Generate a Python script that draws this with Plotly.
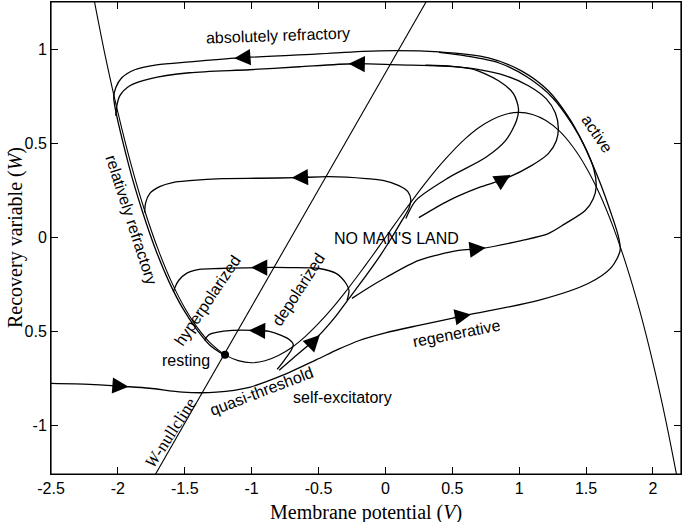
import plotly.graph_objects as go

# axis ticks
x_ticks = [-2.5, -2, -1.5, -1, -0.5, 0, 0.5, 1, 1.5, 2]
x_tick_text = ["-2.5", "-2", "-1.5", "-1", "-0.5", "0", "0.5", "1", "1.5", "2"]
y_ticks = [-1, -0.5, 0, 0.5, 1]
y_tick_text = ["-1", "0.5", "0", "0.5", "1"]

# V-nullcline (cubic)
vnull_v = [-2.2, -2.1, -2.0, -1.9, -1.8, -1.7, -1.6, -1.5, -1.4, -1.3, -1.2, -1.1, -1.0,
           -0.9, -0.8, -0.7, -0.6, -0.5, -0.4, -0.3, -0.2, -0.1, 0.0, 0.1, 0.2, 0.3, 0.4,
           0.5, 0.6, 0.7, 0.8, 0.9, 1.0, 1.1, 1.2, 1.3, 1.4, 1.5, 1.6, 1.7, 1.8, 1.9, 2.0,
           2.1, 2.2]
vnull_w = [1.349, 0.987, 0.667, 0.386, 0.144, -0.062, -0.235, -0.375, -0.485, -0.568,
           -0.624, -0.656, -0.667, -0.657, -0.629, -0.586, -0.528, -0.458, -0.379, -0.291,
           -0.197, -0.100, 0.0, 0.100, 0.197, 0.291, 0.379, 0.458, 0.528, 0.586, 0.629,
           0.657, 0.667, 0.656, 0.624, 0.568, 0.485, 0.375, 0.235, 0.062, -0.144, -0.386,
           -0.667, -0.987, -1.349]

# W-nullcline
wnull_v = [-1.76, 0.35]
wnull_w = [-1.3125, 1.3125]

# resting point
rest_v = [-1.199]
rest_w = [-0.624]

# trajectories
regen_v = [-2.50, -2.21, -1.963, -1.762, -1.516, -1.263, -1.017, -0.771, -0.518, -0.350,
           -0.200, 0.000, 0.250, 0.600, 1.144, 1.516, 1.688, 1.755, 1.740, 1.680, 1.613,
           1.546, 1.472, 1.367, 1.218, 1.017, 0.771, 0.399, -0.048, -0.496, -1.092, -1.464,
           -1.710, -1.874, -1.971, -2.016, -2.031, -1.919, -1.819, -1.719, -1.618, -1.517,
           -1.415, -1.310, -1.205]
regen_w = [-0.777, -0.782, -0.793, -0.803, -0.824, -0.824, -0.798, -0.735, -0.652, -0.595,
           -0.550, -0.508, -0.468, -0.415, -0.335, -0.245, -0.160, -0.069, 0.011, 0.144,
           0.277, 0.394, 0.511, 0.644, 0.782, 0.888, 0.957, 0.989, 0.995, 0.979, 0.957,
           0.936, 0.920, 0.894, 0.851, 0.798, 0.745, 0.386, 0.144, -0.062, -0.235, -0.375,
           -0.485, -0.575, -0.626]

mid_v = [-0.250, -0.123, 0.004, 0.250, 0.548, 0.712, 1.017, 1.218, 1.345, 1.494, 1.554,
         1.576, 1.560, 1.500, 1.400, 1.250, 1.060, 0.850, 0.600, 0.400]
mid_w = [-0.324, -0.266, -0.213, -0.122, -0.069, -0.059, -0.016, 0.021, 0.074, 0.144,
         0.207, 0.271, 0.360, 0.470, 0.600, 0.745, 0.855, 0.930, 0.968, 0.987]

upper_v = [0.250, 0.473, 0.697, 0.898, 1.092, 1.218, 1.278, 1.293, 1.270, 1.203, 1.069,
           0.900, 0.700, 0.500, 0.300]
upper_w = [0.106, 0.197, 0.266, 0.314, 0.383, 0.447, 0.516, 0.585, 0.665, 0.739, 0.809,
           0.862, 0.895, 0.912, 0.918]

tear_v = [0.153, 0.227, 0.473, 0.749, 0.898, 0.980, 0.995, 0.958, 0.846, 0.645, 0.399,
          0.101, -0.235, -0.645, -1.017, -1.464, -1.762, -1.911, -1.986, -2.008, -2.016]
tear_w = [0.101, 0.197, 0.319, 0.426, 0.516, 0.622, 0.686, 0.766, 0.835, 0.899, 0.915,
          0.920, 0.926, 0.910, 0.894, 0.878, 0.846, 0.809, 0.755, 0.702, 0.649]

sep_v = [-0.794, -0.682, -0.518, -0.384, -0.272, -0.160, -0.048, 0.048, 0.123, 0.175,
         0.190, 0.168, 0.101, -0.011, -0.145, -0.421, -0.659, -0.943, -1.218, -1.464,
         -1.591, -1.688, -1.762, -1.792, -1.800]
sep_w = [-0.707, -0.638, -0.537, -0.431, -0.324, -0.218, -0.106, 0.0, 0.090, 0.154,
         0.202, 0.245, 0.277, 0.303, 0.314, 0.324, 0.319, 0.316, 0.314, 0.303, 0.293,
         0.271, 0.234, 0.186, 0.133]

depol_v = [-0.287, -0.272, -0.294, -0.369, -0.496, -0.719, -0.965, -1.241, -1.390, -1.487,
           -1.546, -1.576, -1.585]
depol_w = [-0.335, -0.282, -0.245, -0.191, -0.165, -0.160, -0.160, -0.165, -0.170, -0.191,
           -0.229, -0.270, -0.290]

small_v = [-0.809, -0.756, -0.704, -0.689, -0.719, -0.779, -0.868, -0.980, -1.144, -1.263,
           -1.315, -1.338, -1.352]
small_w = [-0.702, -0.654, -0.601, -0.569, -0.543, -0.521, -0.500, -0.495, -0.495, -0.505,
           -0.516, -0.532, -0.548]

# arrowheads: tip and a point behind it on the same path
arrow_tip_v = [-1.92, 0.64, -1.13, -0.275, -0.70, 0.935, 0.75, -1.005, -1.02, -0.49]
arrow_tip_w = [-0.795, -0.410, 0.955, 0.926, 0.318, 0.334, -0.055, -0.160, -0.495, -0.52]
arrow_tail_v = [-2.05, 0.50, -1.00, -0.15, -0.56, 0.82, 0.62, -0.88, -0.90, -0.58]
arrow_tail_w = [-0.788, -0.428, 0.962, 0.924, 0.322, 0.285, -0.066, -0.160, -0.497, -0.585]

# state labels
label_text = ["absolutely refractory", "active", "relatively refractory", "NO MAN'S LAND",
              "hyperpolarized", "depolarized", "resting", "quasi-threshold",
              "self-excitatory", "regenerative"]
label_v = [-0.80, 1.58, -1.90, 0.08, -1.33, -0.65, -1.49, -0.93, -0.32, 0.53]
label_w = [1.075, 0.553, 0.096, -0.005, -0.335, -0.277, -0.654, -0.822, -0.851, -0.511]
label_angle = [-2, 56, 72, 0, -56, -57, 0, -21, 0, -11]

curves = [
    (vnull_v, vnull_w, 1.1),
    (wnull_v, wnull_w, 1.1),
    (regen_v, regen_w, 1.3),
    (mid_v, mid_w, 1.3),
    (upper_v, upper_w, 1.3),
    (tear_v, tear_w, 1.3),
    (sep_v, sep_w, 1.3),
    (depol_v, depol_w, 1.3),
    (small_v, small_w, 1.3),
]

fig = go.Figure()
for cv, cw, lw in curves:
    fig.add_trace(go.Scatter(x=cv, y=cw, mode="lines",
                             line=dict(color="black", width=lw, shape="spline", smoothing=0.8),
                             showlegend=False, hoverinfo="skip"))

fig.add_trace(go.Scatter(x=rest_v, y=rest_w, mode="markers",
                         marker=dict(color="black", size=8), showlegend=False))

for tv, tw, av, aw in zip(arrow_tip_v, arrow_tip_w, arrow_tail_v, arrow_tail_w):
    fig.add_annotation(x=tv, y=tw, ax=av, ay=aw, xref="x", yref="y", axref="x", ayref="y",
                       text="", showarrow=True, arrowhead=2, arrowsize=2.5,
                       arrowwidth=1.3, arrowcolor="black")

sans = "Liberation Sans, Arial, Helvetica, sans-serif"
serif = "Liberation Serif, Times New Roman, serif"

for txt, lv, lw, ang in zip(label_text, label_v, label_w, label_angle):
    fig.add_annotation(x=lv, y=lw, text=txt, showarrow=False, textangle=ang,
                       font=dict(family=sans, size=16, color="black"))

fig.add_annotation(x=-1.61, y=-1.043, text="<i>W</i>-nullcline", showarrow=False,
                   textangle=-57, font=dict(family=serif, size=17, color="black"))

fig.add_annotation(x=0.5, y=0, xref="paper", yref="paper", yshift=-38, yanchor="middle",
                   text="Membrane potential (<i>V</i>)", showarrow=False,
                   font=dict(family=serif, size=20, color="black"))
fig.add_annotation(x=0, y=0.5, xref="paper", yref="paper", xshift=-36, xanchor="center",
                   text="Recovery variable (<i>W</i>)", showarrow=False, textangle=-90,
                   font=dict(family=serif, size=20, color="black"))

# frame around the plot area
fig.add_shape(type="rect", xref="paper", yref="paper", x0=0, y0=0, x1=1, y1=1,
              line=dict(color="black", width=1.2))

axis_style = dict(showgrid=False, zeroline=False, showline=True, linecolor="black",
                  linewidth=1, mirror="ticks", ticks="inside", ticklen=7,
                  tickcolor="black", tickfont=dict(family=sans, size=16, color="black"))

fig.update_xaxes(range=[-2.5, 2.21], tickvals=x_ticks, ticktext=x_tick_text, **axis_style)
fig.update_yaxes(range=[-1.26, 1.255], tickvals=y_ticks, ticktext=y_tick_text, **axis_style)

fig.update_layout(width=685, height=522, margin=dict(l=51, r=4, t=2, b=48),
                  plot_bgcolor="white", paper_bgcolor="white", showlegend=False)

fig.write_html("out.html", config={"displayModeBar": False},
               post_script="document.body.style.margin='0px';")
